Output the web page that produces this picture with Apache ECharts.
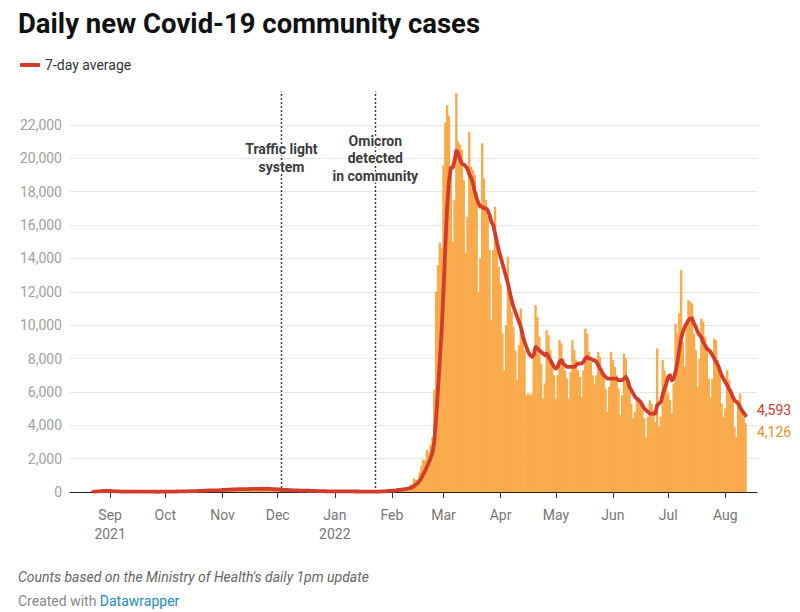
<!DOCTYPE html>
<html>
<head>
<meta charset="utf-8">
<script src="https://cdn.jsdelivr.net/npm/echarts@6/dist/echarts.min.js"></script>
<style>html,body{margin:0;padding:0;background:#fff}#c{width:800px;height:612px}</style>
</head>
<body>
<div id="c"></div>
<script>
// ---------- data ----------
const startDate = [2021, 7, 17]; // 17 Aug 2021 (UTC, month 0-based)
const dailyCases = [
// Aug 2021 (17-31)
1,6,11,11,21,51,35,41,62,68,70,83,53,49,75,
// Sep
49,28,20,21,20,20,21,15,11,13,20,33,33,15,15,13,11,22,24,22,14,15,17,9,18,8,12,45,19,27,
// Oct
19,24,33,29,27,39,29,44,34,60,35,43,55,71,65,43,51,60,94,60,102,129,104,80,109,79,74,89,125,160,143,
// Nov
162,126,100,146,163,206,190,190,125,147,185,175,201,175,173,222,194,167,200,172,205,207,215,178,178,173,141,153,181,134,
// Dec
146,143,92,81,98,135,101,101,87,61,91,75,90,74,83,78,56,62,64,54,69,43,41,37,41,52,23,38,49,33,39,
// Jan 2022
56,41,19,32,43,32,39,29,32,24,27,34,23,31,24,21,30,24,20,39,23,27,37,25,20,59,45,89,84,103,41,
// Feb
94,82,147,243,208,200,123,202,191,306,446,454,810,744,744,1160,1573,1929,1901,2522,2365,2846,3297,6137,12011,13606,14941,14633,
// Mar
19566,22152,23183,22527,19000,15000,17500,23894,21015,20800,20500,18700,14300,16500,21600,19500,19300,19000,18000,12000,14000,20900,18800,17500,16500,14500,10300,14500,17100,15000,13500,
// Apr
12500,9500,7300,10000,14100,12000,10800,9900,8500,6700,8800,11000,9500,8500,5800,5900,5800,5900,8500,11200,10500,9300,7700,5600,6500,9700,9400,8500,7800,7000,
// May
5600,7000,9100,8900,8000,7300,6800,5600,7200,9100,8500,7900,7300,6900,5700,7300,9800,9500,8400,7800,7000,6500,7000,8400,8100,7400,6900,6200,4800,6300,8400,
// Jun
7900,7500,7000,6200,4600,5800,8300,8000,6600,6000,5300,4400,4800,5700,5500,5300,4900,4400,3300,4500,5500,5300,4900,4200,8600,3900,4500,7900,7300,6900,
// Jul
5900,5500,4700,6500,10100,9500,10700,13300,9000,7500,10000,11500,11400,11300,9500,8500,6300,8000,10400,10200,9300,8500,6800,5700,6800,9200,9100,7900,7500,5300,4500,
// Aug (1-12)
5000,7300,6700,5800,5500,3900,3300,5500,5900,4900,4500,4126
];
const sevenDayAvg = [
// Aug 2021
null,null,null,null,null,null,19,25,33,41,50,59,59,61,66,
// Sep
64,58,51,42,37,33,26,21,18,17,17,19,21,20,20,20,20,20,19,17,17,17,18,18,17,15,13,18,18,20,
// Oct
21,22,23,26,28,27,29,32,33,37,38,41,43,49,50,52,55,55,63,64,69,77,86,90,95,98,97,95,94,102,111,
// Nov
120,128,132,138,143,150,156,160,160,167,172,174,173,171,169,181,187,187,190,186,190,195,194,192,194,190,184,178,174,165,
// Dec
158,153,146,133,125,123,114,107,100,95,96,93,87,83,80,79,74,74,70,67,64,61,56,53,50,48,44,41,40,39,39,
// Jan 2022
40,40,40,38,38,37,37,33,32,33,32,31,29,29,28,27,27,25,25,27,26,27,28,28,27,33,36,43,51,62,63,
// Feb
69,78,86,108,125,138,157,172,188,210,239,275,362,450,528,666,847,1059,1266,1510,1742,2042,2348,3000,4440,6112,7886,9639,
// Mar
12027,14721,17152,18658,19429,19437,19847,20465,20303,19962,19673,19630,19530,19387,19059,18843,18500,18000,17600,17300,17100,17100,17000,17000,16900,16600,16200,16000,15500,15000,14500,
// Apr
14100,13700,13300,12900,12500,12000,11500,11100,10800,10500,10200,9900,9400,9000,8700,8400,8200,8100,8200,8700,8600,8500,8400,8300,8200,8300,8100,7900,7700,7500,
// May
7400,7500,7800,7900,7700,7600,7500,7500,7500,7500,7500,7600,7700,7700,7700,7800,8000,8100,8000,8000,7900,7900,7800,7600,7400,7200,7000,6900,6800,6800,6800,
// Jun
6800,6800,6800,6700,6700,6700,6800,6900,6700,6300,6100,5900,5700,5600,5500,5400,5200,5000,4900,4800,4700,4700,4700,4700,5200,5300,5400,5800,6200,6500,
// Jul
6900,7000,6700,6800,7200,7800,8500,9200,9600,9900,10100,10300,10400,10400,10100,9900,9600,9400,9300,9000,8800,8600,8500,8400,8200,8000,7800,7600,7300,7000,6800,
// Aug
6600,6400,6200,6000,5700,5500,5400,5300,5100,4900,4750,4593
];
const monthTickDates = ['2021-09-01','2021-10-01','2021-11-01','2021-12-01','2022-01-01','2022-02-01','2022-03-01','2022-04-01','2022-05-01','2022-06-01','2022-07-01','2022-08-01'];
const monthTickLabels = ['Sep\n2021','Oct','Nov','Dec','Jan\n2022','Feb','Mar','Apr','May','Jun','Jul','Aug'];
const eventDates = ['2021-12-03','2022-01-23'];
const eventLabels = ['Traffic light\nsystem','Omicron\ndetected\nin community'];
const yMax = 24000, yInterval = 2000;
const titleText = 'Daily new Covid-19 community cases';
const legendName = '7-day average';
const noteText = "Counts based on the Ministry of Health's daily 1pm update";

// ---------- helpers ----------
const DAY = 86400000;
const t0 = Date.UTC(startDate[0], startDate[1], startDate[2]);
const ts = s => { const p = s.split('-').map(Number); return Date.UTC(p[0], p[1]-1, p[2]); };
const fmt = v => String(Math.round(v)).replace(/\B(?=(\d{3})+(?!\d))/g, ',');
const barData = dailyCases.map((v, i) => [t0 + i*DAY, v]);
const avgData = sevenDayAvg.map((v, i) => [t0 + i*DAY, v]);
const tickTs = monthTickDates.map(ts);
const sep1 = ts('2021-09-01');
const xMin = sep1 - 21.78*DAY;
const xMax = xMin + 373.0*DAY;

const FONT = 'Roboto, "Noto Sans", sans-serif';
const BAR = '#f9ab4b', RED = '#d33b2b';

const chart = echarts.init(document.getElementById('c'), null, {renderer: 'svg'});
chart.setOption({
  animation: false,
  textStyle: {fontFamily: FONT},
  grid: {left: 70, right: 43, top: 91.6, bottom: 120, containLabel: false},
  legend: {
    left: 15, top: 53, itemWidth: 20, itemHeight: 4, itemGap: 10,
    data: [{name: legendName, icon: 'roundRect'}],
    textStyle: {fontSize: 14, color: '#333', fontFamily: FONT},
    selectedMode: false
  },
  xAxis: {
    type: 'value', min: xMin, max: xMax,
    axisLine: {show: true, onZero: false, lineStyle: {color: '#222', width: 1}},
    axisTick: {show: true, length: 6, lineStyle: {color: '#333'}, customValues: tickTs},
    axisLabel: {
      customValues: tickTs, color: '#777', fontSize: 14, lineHeight: 19, margin: 13, fontFamily: FONT,
      formatter: v => { const k = tickTs.indexOf(v); return k >= 0 ? monthTickLabels[k] : ''; }
    },
    splitLine: {show: false}
  },
  yAxis: {
    type: 'value', min: 0, max: yMax, interval: yInterval,
    axisLine: {show: false}, axisTick: {show: false},
    axisLabel: {color: '#a0a0a0', fontSize: 14, margin: 8, fontFamily: FONT, showMaxLabel: false, formatter: v => fmt(v)},
    splitLine: {show: true, showMaxLine: false, lineStyle: {color: '#e6e6e6', width: 1}}
  },
  series: [
    {
      name: 'Daily cases', type: 'bar', data: barData, barWidth: 2.4,
      itemStyle: {color: BAR}, z: 2,
      markLine: {
        silent: true, symbol: ['none','none'], animation: false,
        label: {show: false},
        lineStyle: {color: '#333', type: [2, 2], width: 1.4},
        data: eventDates.map(d => ({xAxis: ts(d)}))
      }
    },
    {
      name: legendName, type: 'line', data: avgData, showSymbol: false, symbol: 'none',
      connectNulls: false, smooth: false, z: 5,
      itemStyle: {color: RED},
      lineStyle: {color: RED, width: 3.8, cap: 'round', join: 'round'}
    }
  ]
});

const toPx = (d, v) => chart.convertToPixel({gridIndex: 0}, [d, v]);
const lastI = dailyCases.length - 1;
const lastBarPx = toPx(barData[lastI][0], dailyCases[lastI]);
const lastAvgPx = toPx(avgData[lastI][0], sevenDayAvg[lastI]);

const graphics = [
  {type: 'text', left: 18, top: 9, style: {text: titleText, font: 'bold 27.5px ' + FONT, fill: '#111'}},
  {type: 'text', x: 18, y: 577, style: {text: noteText, font: 'italic 14px ' + FONT, fill: '#666', verticalAlign: 'middle'}},
  {type: 'text', x: 18, y: 601, style: {
    text: '{a|Created with }{b|Datawrapper}', verticalAlign: 'middle',
    rich: {a: {fontSize: 14, fontFamily: FONT, fill: '#888', color: '#888'}, b: {fontSize: 14, fontFamily: FONT, fill: '#1d8ac4', color: '#1d8ac4'}}
  }},
  {type: 'text', x: 757, y: lastAvgPx[1] - 5, style: {text: fmt(sevenDayAvg[lastI]), font: '14px ' + FONT, fill: '#cc3a2c', verticalAlign: 'middle'}},
  {type: 'text', x: 757, y: lastBarPx[1] + 9, style: {text: fmt(dailyCases[lastI]), font: '14px ' + FONT, fill: '#e5931c', verticalAlign: 'middle'}}
];
eventDates.forEach((d, k) => {
  const x = toPx(ts(d), 0)[0];
  graphics.push({type: 'text', x: x, y: 158, z: 10, style: {
    text: eventLabels[k], font: 'bold 14px ' + FONT, fill: '#3c3c3c', align: 'center', verticalAlign: 'middle',
    lineHeight: 17.5, stroke: '#fff', lineWidth: 3
  }});
});
chart.setOption({graphic: graphics});
</script>
</body>
</html>
